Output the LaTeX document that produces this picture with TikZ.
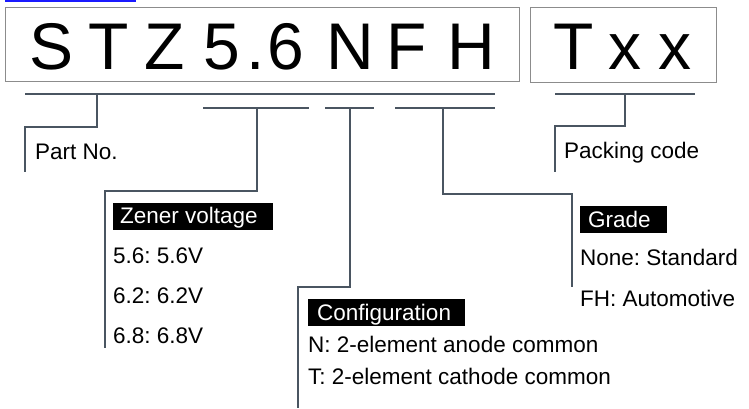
\documentclass[tikz,border=0pt]{standalone}
\usepackage{fontspec}
\setmainfont{Liberation Sans}
\frenchspacing
\definecolor{lineclr}{HTML}{4A5561}
\definecolor{boxgray}{HTML}{8C8C8C}
\definecolor{linkblue}{HTML}{1A1AFF}
\begin{document}
\begin{tikzpicture}[x=1pt,y=-1pt,
  conn/.style={draw=lineclr, line width=2.5pt, line join=miter},
  bigl/.style={font=\fontsize{66}{66}\selectfont, inner sep=0pt, anchor=base},
  txt/.style={font=\fontsize{22.5}{27}\selectfont, inner sep=0pt, anchor=base west},
  hdrbox/.style={fill=black, inner sep=0pt, minimum height=27pt, anchor=west},
  hdrtxt/.style={font=\fontsize{22.5}{27}\selectfont, text=white, inner sep=0pt, anchor=base west},
  codebox/.style={draw=boxgray, line width=1pt, inner sep=0pt, anchor=north west}]
\useasboundingbox (0,0) rectangle (749,408);
% clipped link underline
\draw[linkblue, line width=1.5pt] (5,0.75) -- (136,0.75);
% code boxes
\node[codebox, minimum width=514pt, minimum height=74pt] (pnbox) at (5,7) {};
\node[codebox, minimum width=186pt, minimum height=75pt] (pkbox) at (530,7) {};
% big letters
\node[bigl] (c1) at (51.5,69.5) {S};
\node[bigl] (c2) at (109,69.5) {T};
\node[bigl] (c3) at (165,69.5) {Z};
\node[bigl] (c4) at (221.5,69.5) {5};
\node[bigl] (c5) at (256,69.5) {.};
\node[bigl] (c6) at (286,69.5) {6};
\node[bigl] (c7) at (350,69.5) {N};
\node[bigl] (c8) at (407,69.5) {F};
\node[bigl] (c9) at (471,69.5) {H};
\node[bigl] (d1) at (574,69.5) {T};
\node[bigl] (d2) at (625,69.5) {x};
\node[bigl] (d3) at (675,69.5) {x};
% coordinates
\coordinate (a1) at (25,94);   \coordinate (a2) at (495,94);
\coordinate (a3) at (97,94);   \coordinate (a4) at (97,127);
\coordinate (a5) at (25,127);  \coordinate (a6) at (25,172);
\coordinate (b1) at (203,108); \coordinate (b2) at (309,108);
\coordinate (b3) at (257,108); \coordinate (b4) at (257,191);
\coordinate (b5) at (105,191); \coordinate (b6) at (105,348);
\coordinate (e1) at (325,108); \coordinate (e2) at (374,108);
\coordinate (e3) at (350,108); \coordinate (e4) at (350,287);
\coordinate (e5) at (298,287); \coordinate (e6) at (298,408);
\coordinate (g1) at (395,108); \coordinate (g2) at (495,108);
\coordinate (g3) at (443,108); \coordinate (g4) at (443,194);
\coordinate (g5) at (572,194); \coordinate (g6) at (572,287);
\coordinate (p1) at (555,94);  \coordinate (p2) at (695,94);
\coordinate (p3) at (625,94);  \coordinate (p4) at (625,126);
\coordinate (p5) at (555,126); \coordinate (p6) at (555,172);
% connectors
\draw[conn] (a1) -- (a2);
\draw[conn] (a3) -- (a4) -- (a5) -- (a6);
\draw[conn] (b1) -- (b2);
\draw[conn] (b3) -- (b4) -- (b5) -- (b6);
\draw[conn] (e1) -- (e2);
\draw[conn] (e3) -- (e4) -- (e5) -- (e6);
\draw[conn] (g1) -- (g2);
\draw[conn] (g3) -- (g4) -- (g5) -- (g6);
\draw[conn] (p1) -- (p2);
\draw[conn] (p3) -- (p4) -- (p5) -- (p6);
% labels
\node[txt] (partno) at (35,159) {Part No.};
\node[txt] (packing) at (564,158) {Packing code};
\node[hdrbox, minimum width=160pt] (zenb) at (113,216.5) {};
\node[hdrtxt] (zen) at (120,223) {Zener voltage};
\node[txt] (z1) at (113,263) {5.6: 5.6V};
\node[txt] (z2) at (113,303) {6.2: 6.2V};
\node[txt] (z3) at (113,343) {6.8: 6.8V};
\node[hdrbox, minimum width=87pt] (grb) at (580,219.5) {};
\node[hdrtxt] (gr) at (588,227) {Grade};
\node[txt] (g1t) at (580,265) {None: Standard};
\node[txt] (g2t) at (580,306) {FH: Automotive};
\node[hdrbox, minimum width=157pt] (cfb) at (308,312.5) {};
\node[hdrtxt] (cf) at (317,320) {Configuration};
\node[txt] (cf1) at (308,352) {N: 2-element anode common};
\node[txt] (cf2) at (308,384) {T: 2-element cathode common};
\end{tikzpicture}
\end{document}
